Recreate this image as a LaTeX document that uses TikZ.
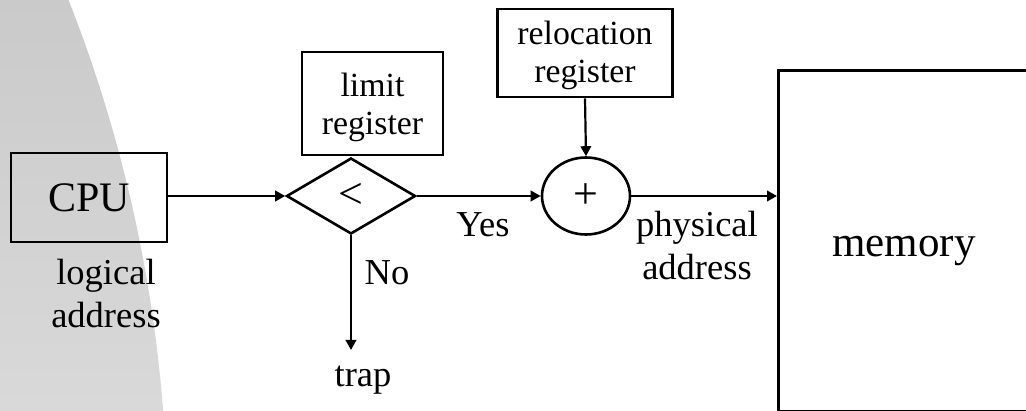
\documentclass[tikz,border=0pt]{standalone}
\usepackage{fontspec}
\setmainfont{Liberation Serif}
\usetikzlibrary{arrows.meta,shapes.geometric}

\tikzset{
  shapeline/.style={draw=black, line width=2.6pt},
  regbox/.style={shapeline, rectangle, inner sep=0pt},
  regtext/.style={inner sep=0pt, anchor=base, align=center,
    font=\fontsize{33.8}{38}\selectfont},
  flow/.style={draw=black, line width=2.2pt,
    -{Triangle[length=10pt,width=10.5pt]}},
  lbl/.style={inner sep=0pt, anchor=base, align=center,
    font=\fontsize{36.5}{43}\selectfont},
}

\begin{document}
\begin{tikzpicture}[x=1pt,y=-1pt]
  \useasboundingbox (0,0) rectangle (1026,411);
  \clip (0,0) rectangle (1026,411);

  % soft grey arc on the left edge
  \begin{scope}
    \clip (-1257.5,522.8) circle[radius=1425];
    \shade[top color={rgb,255:red,202;green,202;blue,202},
           bottom color={rgb,255:red,217;green,217;blue,217}]
      (0,0) rectangle (200,411);
  \end{scope}

  % blocks
  \node[regbox, minimum width=156pt, minimum height=89pt,
        font=\fontsize{42}{48}\selectfont] (cpu) at (89,197.5) {CPU};
  \node[regbox, minimum width=141pt, minimum height=103pt]
        (limit) at (372.5,103.5) {};
  \node[regtext] (limittext) at (372.5,135) {limit\\register};
  \node[regbox, minimum width=175pt, minimum height=88pt]
        (reloc) at (585,53) {};
  \node[regtext] (reloctext) at (585,83) {relocation\\register};
  \node[shapeline, diamond, inner sep=0pt, minimum width=129pt,
        minimum height=76pt, font=\fontsize{44}{48}\selectfont]
        (cmp) at (351,196) {<};
  \node[shapeline, ellipse, inner sep=0pt, minimum width=88pt,
        minimum height=77pt, font=\fontsize{44}{48}\selectfont]
        (add) at (586,196) {+};
  \node[shapeline, rectangle, inner sep=0pt, anchor=north west,
        minimum width=300pt, minimum height=341.5pt] (mem) at (777,69) {};
  \node[inner sep=0pt, anchor=base, font=\fontsize{43}{48}\selectfont]
        (memtext) at (904,257) {memory};

  \coordinate (trapend) at (351,350);

  % connectors
  \draw[flow] (cpu.east |- cmp.west) -- (cmp.west);
  \draw[flow] (cmp.east) -- (add.west);
  \draw[flow] (add.east) -- (mem.west |- add.east);
  \draw[flow] (reloc.south) -- (add.north);
  \draw[flow] (cmp.south) -- (trapend);

  % labels
  \node[lbl] (logical) at (106,328) {logical\\address};
  \node[lbl] (yes) at (483,237) {Yes};
  \node[lbl] (no) at (387,285) {No};
  \node[lbl] (trap) at (363,387) {trap};
  \node[lbl] (phys) at (697,280) {physical\\address};
\end{tikzpicture}
\end{document}
